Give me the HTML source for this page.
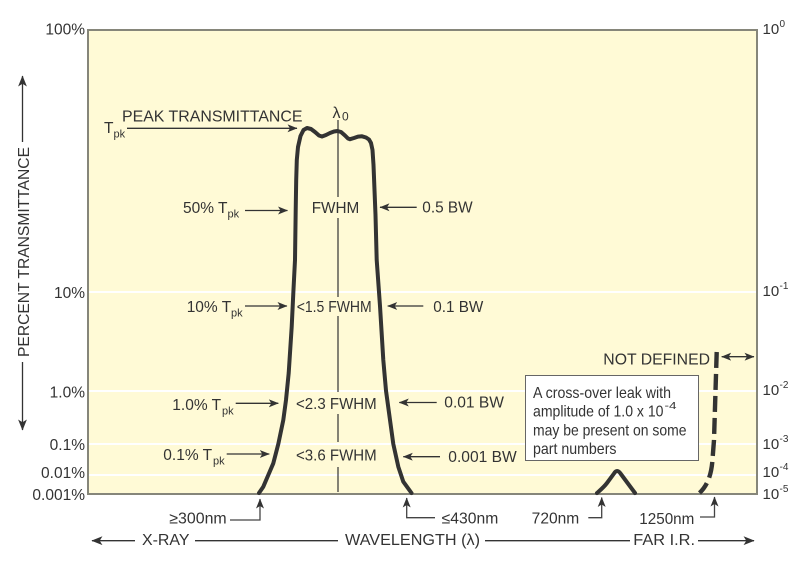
<!DOCTYPE html>
<html><head><meta charset="utf-8"><style>
html,body{margin:0;padding:0;background:#fff;}
svg{display:block;}
text{font-family:"Liberation Sans",Arial,sans-serif;fill:#333;}
</style></head><body>
<svg width="800" height="573" viewBox="0 0 800 573" xmlns="http://www.w3.org/2000/svg">
<defs>
<marker id="ah" viewBox="0 0 10 8" refX="9.5" refY="4" markerWidth="10" markerHeight="8" markerUnits="userSpaceOnUse" orient="auto-start-reverse">
<path d="M0,0 L10,4 L0,8 L2.5,4 Z" fill="#333"/>
</marker>
<marker id="ahb" viewBox="0 0 10 8" refX="9.5" refY="4" markerWidth="11" markerHeight="9" markerUnits="userSpaceOnUse" orient="auto-start-reverse">
<path d="M0,0 L10,4 L0,8 L2.5,4 Z" fill="#333"/>
</marker>
</defs>

<!-- plot area -->
<rect x="88" y="30" width="669" height="464" fill="#fffad6" stroke="#86867a" stroke-width="2"/>
<g stroke="#ffffff" stroke-width="2">
<line x1="89" y1="292" x2="756" y2="292"/>
<line x1="89" y1="391" x2="756" y2="391"/>
<line x1="89" y1="444" x2="756" y2="444"/>
<line x1="89" y1="475" x2="756" y2="475"/>
</g>

<!-- lambda0 center line -->
<g stroke="#333" stroke-width="1.2">
<line x1="338" y1="120" x2="338" y2="197"/>
<line x1="338" y1="218" x2="338" y2="297"/>
<line x1="338" y1="316" x2="338" y2="392"/>
<line x1="338" y1="414" x2="338" y2="442"/>
<line x1="338" y1="467" x2="338" y2="492"/>
</g>

<!-- main passband curve -->
<path d="M259,493 L263.3,486.7 L268.3,475 L273.3,463.3 L278.3,444 L283.3,420 L286,400 L288.7,373 L291.7,326.7 L293.3,293.3 L295,260 L295.7,210 L296.2,180 L296.8,160 L298,147 L300.5,136 L303.5,130 L307,128 L311,129 L315,132 L319,135.5 L322,136.5 L326,135 L330,133 L334,131.5 L337.5,131 L341,132 L345,135.5 L348,138.5 L350,139.2 L354,138 L358,136.6 L362,136.3 L366,137.5 L369,139.5 L371,143 L372.5,150 L373.5,165 L374.5,190 L375.5,215 L376.7,260 L380,306 L383.3,360 L386,390.7 L390,420 L393.3,444 L398.3,466.7 L403.3,481.7 L411.5,493" fill="none" stroke="#333" stroke-width="4" stroke-linecap="round" stroke-linejoin="round"/>

<!-- cross-over leak bump -->
<path d="M597,493 C601,489.5 604,487 607,483 L614,473.5 Q617,468.5 620.5,473.5 L635,493" fill="none" stroke="#333" stroke-width="4" stroke-linecap="round" stroke-linejoin="round"/>

<!-- far IR dashed curve -->
<path d="M716.7,352 L714,440 L712.3,462 C711,476 707,486 699.5,493" fill="none" stroke="#333" stroke-width="4.4" stroke-dasharray="16 6"/>

<!-- annotation box -->
<rect x="525.5" y="375.5" width="173" height="85" fill="#ffffff" stroke="#666" stroke-width="1"/>
<g font-size="16">
<text x="533" y="398" textLength="138" lengthAdjust="spacingAndGlyphs">A cross-over leak with</text>
<text x="533" y="416.7" textLength="130.5" lengthAdjust="spacingAndGlyphs">amplitude of 1.0 x 10</text>
<text x="664.5" y="409" font-size="10" textLength="12" lengthAdjust="spacingAndGlyphs">-4</text>
<text x="533" y="435.7" textLength="153.5" lengthAdjust="spacingAndGlyphs">may be present on some</text>
<text x="533" y="454" textLength="83.5" lengthAdjust="spacingAndGlyphs">part numbers</text>
</g>

<!-- left tick labels -->
<g font-size="15.5" text-anchor="end">
<text x="85" y="34.3">100%</text>
<text x="85" y="298">10%</text>
<text x="85" y="397.7">1.0%</text>
<text x="85" y="450">0.1%</text>
<text x="85" y="478">0.01%</text>
<text x="85" y="500">0.001%</text>
</g>

<!-- right tick labels -->
<g font-size="15">
<text x="762.5" y="34">10</text><text x="779.5" y="27" font-size="10">0</text>
<text x="762.5" y="296">10</text><text x="779.5" y="289" font-size="10">-1</text>
<text x="762.5" y="395">10</text><text x="779.5" y="388" font-size="10">-2</text>
<text x="762.5" y="449">10</text><text x="779.5" y="442" font-size="10">-3</text>
<text x="762.5" y="477">10</text><text x="779.5" y="470" font-size="10">-4</text>
<text x="762.5" y="499">10</text><text x="779.5" y="492" font-size="10">-5</text>
</g>

<!-- y axis title -->
<text transform="translate(29,252) rotate(-90)" text-anchor="middle" font-size="15.5" textLength="210" lengthAdjust="spacingAndGlyphs">PERCENT TRANSMITTANCE</text>
<g stroke="#333" stroke-width="1.3">
<line x1="22.5" y1="142" x2="22.5" y2="76" marker-end="url(#ahb)"/>
<line x1="22.5" y1="362" x2="22.5" y2="430" marker-end="url(#ahb)"/>
</g>

<!-- peak labels -->
<g font-size="15.5">
<text x="122" y="121.5" textLength="180.5" lengthAdjust="spacingAndGlyphs">PEAK TRANSMITTANCE</text>
<text x="104" y="133">T</text><text x="113.5" y="137.5" font-size="11">pk</text>
<text x="332.5" y="118" font-size="16">λ</text><text x="342" y="120.5" font-size="12">0</text>

<text x="183" y="213">50% T</text><text x="227.5" y="217.5" font-size="11">pk</text>
<text x="311.7" y="213" textLength="47.6" lengthAdjust="spacingAndGlyphs">FWHM</text>
<text x="422.3" y="212.5" textLength="50.4" lengthAdjust="spacingAndGlyphs">0.5 BW</text>

<text x="186.7" y="312">10% T</text><text x="231" y="316.5" font-size="11">pk</text>
<text x="296.7" y="312" textLength="75" lengthAdjust="spacingAndGlyphs">&lt;1.5 FWHM</text>
<text x="433.3" y="312" textLength="50" lengthAdjust="spacingAndGlyphs">0.1 BW</text>

<text x="172.3" y="410">1.0% T</text><text x="222" y="414.5" font-size="11">pk</text>
<text x="296" y="409" textLength="80.7" lengthAdjust="spacingAndGlyphs">&lt;2.3 FWHM</text>
<text x="444.3" y="407.5" textLength="59.7" lengthAdjust="spacingAndGlyphs">0.01 BW</text>

<text x="163.3" y="460">0.1% T</text><text x="213" y="464.5" font-size="11">pk</text>
<text x="296" y="460.5" textLength="80.7" lengthAdjust="spacingAndGlyphs">&lt;3.6 FWHM</text>
<text x="448.3" y="462" textLength="68.4" lengthAdjust="spacingAndGlyphs">0.001 BW</text>

<text x="710" y="364.5" text-anchor="end" textLength="106.7" lengthAdjust="spacingAndGlyphs">NOT DEFINED</text>
</g>

<!-- pointer arrows in plot -->
<g stroke="#333" stroke-width="1.3" fill="none">
<line x1="127" y1="128.3" x2="297" y2="128.3" marker-end="url(#ah)"/>
<line x1="245" y1="210.5" x2="287.5" y2="210.5" marker-end="url(#ah)"/>
<line x1="416.7" y1="207.3" x2="380" y2="207.3" marker-end="url(#ah)"/>
<line x1="245" y1="306" x2="287" y2="306" marker-end="url(#ah)"/>
<line x1="423.3" y1="306" x2="387.7" y2="306" marker-end="url(#ah)"/>
<line x1="235.7" y1="403.3" x2="278.3" y2="403.3" marker-end="url(#ah)"/>
<line x1="436.7" y1="402.5" x2="399.3" y2="402.5" marker-end="url(#ah)"/>
<line x1="226.7" y1="454" x2="269.3" y2="454" marker-end="url(#ah)"/>
<line x1="440" y1="456.7" x2="403.3" y2="456.7" marker-end="url(#ah)"/>
<line x1="721.7" y1="356.7" x2="754" y2="356.7" marker-start="url(#ah)" marker-end="url(#ah)"/>
</g>

<!-- bottom wavelength markers -->
<g font-size="15.5">
<text x="169.3" y="523.3" textLength="57.4" lengthAdjust="spacingAndGlyphs">≥300nm</text>
<text x="441.7" y="523.3" textLength="56.6" lengthAdjust="spacingAndGlyphs">≤430nm</text>
<text x="531.7" y="523.3" textLength="47.6" lengthAdjust="spacingAndGlyphs">720nm</text>
<text x="639.3" y="524" textLength="55" lengthAdjust="spacingAndGlyphs">1250nm</text>
</g>
<g stroke="#444" stroke-width="1.3" fill="none">
<polyline points="230,520 260,520 260,499" marker-end="url(#ah)"/>
<polyline points="435,517.7 406.7,517.7 406.7,498" marker-end="url(#ah)"/>
<polyline points="588.3,517.7 601.7,517.7 601.7,497.5" marker-end="url(#ah)"/>
<polyline points="700,517 714.5,517 714.5,497" marker-end="url(#ah)"/>
</g>

<!-- bottom axis -->
<g font-size="15.5">
<text x="142" y="545" textLength="47.5" lengthAdjust="spacingAndGlyphs">X-RAY</text>
<text x="345" y="545" textLength="135" lengthAdjust="spacingAndGlyphs">WAVELENGTH (λ)</text>
<text x="633.3" y="545" textLength="61.7" lengthAdjust="spacingAndGlyphs">FAR I.R.</text>
</g>
<g stroke="#333" stroke-width="1.3" fill="none">
<line x1="135" y1="540.7" x2="92" y2="540.7" marker-end="url(#ahb)"/>
<line x1="195" y1="540.7" x2="338" y2="540.7"/>
<line x1="485" y1="540.7" x2="630" y2="540.7"/>
<line x1="698" y1="540.7" x2="754" y2="540.7" marker-end="url(#ahb)"/>
</g>
</svg>
</body></html>
